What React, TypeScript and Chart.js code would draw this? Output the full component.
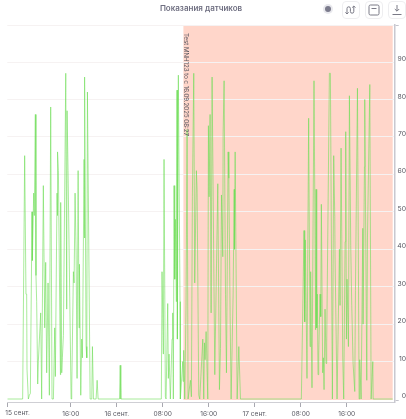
import React, { useEffect, useRef } from "react";
import { Chart, registerables } from "chart.js";

Chart.register(...registerables);

const chartTitle = "Показания датчиков";
const annotationText = "Test MNH123 to с 16.09.2025 08:27";
const annotationStart = 35.59;
const annotationEnd = 72;
const xMin = 4.95;
const xMax = 72.35;
const yMin = -0.8;
const yMax = 99.9;
const yBottomMark = -0.27;

const xTickValues = [4.95, 16, 24, 32, 40, 48, 56, 64];
const xTickLabels = ["15 сент.", "16:00", "16 сент.", "08:00", "16:00", "17 сент.", "08:00", "16:00"];
const yTickValues = [yBottomMark, 0, 10, 20, 30, 40, 50, 60, 70, 80, 90, yMax];

// hours since 15 Sep 00:00
const hours = [
  4.95, 7.62, 7.97, 8.2, 8.32, 8.38, 8.61, 8.78, 8.96, 9.25, 9.31, 9.54, 9.65, 9.83, 9.94, 10.06, 10.24, 10.35, 10.76, 10.93,
  11.22, 11.46, 11.63, 11.8, 12.04, 12.27, 12.5, 12.73, 12.97, 13.2, 13.31, 13.6, 13.66, 13.72, 13.84, 14.19, 14.24, 14.42, 14.53, 14.71,
  15.12, 15.29, 15.35, 15.52, 16.05, 16.16, 16.45, 16.57, 16.74, 16.92, 17.09, 17.27, 17.44, 17.5, 17.73, 17.9, 18.02, 18.31, 18.37, 18.43,
  18.66, 18.78, 18.89, 19.36, 19.65, 19.76, 19.94, 20.4, 20.58, 20.75, 24.47, 24.59, 24.7,
  31.75, 31.87, 32.1, 32.22, 32.45, 32.57, 32.86, 32.97, 33.09, 33.32, 33.61, 33.73, 33.84, 33.96, 34.08, 34.19, 34.37, 34.48, 34.54, 34.71, 35.0, 35.06,
  35.47, 35.53, 35.64, 35.82, 36.05, 36.23, 36.4, 36.81, 36.98, 37.15, 37.39, 37.56, 37.85, 37.97, 38.26, 38.43, 38.96, 39.13, 39.25, 39.36, 39.54, 39.83,
  39.94, 40.06, 40.23, 40.41, 40.58, 41.05, 41.57, 41.86, 42.04, 42.21, 42.44, 42.5, 42.67, 42.91, 43.08, 43.37, 43.49, 43.72, 43.89, 44.24, 44.42, 44.48,
  44.59, 44.94, 45.23, 45.52,
  56.11, 56.57, 56.69, 56.8, 57.09, 57.38, 57.62, 57.73, 57.96, 58.31, 58.6, 58.66, 58.78, 58.89, 59.01, 59.13, 59.36, 59.48, 59.59, 59.82, 59.94, 60.06,
  60.23, 60.4, 60.52, 60.99, 61.16, 61.51, 61.74, 61.92, 61.97, 62.32, 62.44, 62.73, 62.84, 63.02, 63.31, 63.48, 63.72, 63.83, 63.95, 64.06, 64.3, 64.47,
  64.7, 64.88, 65.11, 65.4, 65.52, 65.87, 66.16, 66.27, 66.51, 66.8, 66.85, 67.09, 67.14, 67.49, 67.61, 68.02, 68.25, 68.54, 68.6, 72,
];

const readings = [
  0, 0, 65, 28, 28, 8, 0, 1, 1.5, 50, 37, 55, 49, 76, 33, 26, 4, 10, 23, 0,
  57, 19, 36.5, 7, 31, 1, 78, 0, 0, 19, 6, 55, 49, 66, 61, 6.5, 52.5, 7, 11, 17,
  87, 24, 77, 61, 0, 3, 34, 31, 55, 39, 5.5, 61, 19, 36, 1, 16, 11, 64, 43, 86,
  14, 11, 82, 0, 0, 14, 0, 0, 5, 0, 0, 9, 0,
  0, 34, 12, 64, 0.6, 0, 25.5, 5.5, 12, 0, 16, 23, 0, 57, 32, 48, 26, 82.5, 16, 86.5, 26, 0,
  10, 4.7, 13, 0, 25, 72, 0, 5, 0.6, 54, 87, 31, 61, 56, 1, 0, 16, 0, 15, 10.5, 18, 0,
  73, 54, 76, 23, 86, 6.5, 57.5, 2.5, 13.5, 54.5, 38, 71, 85, 28, 7, 66, 59, 22, 0, 28, 56, 40,
  66, 0, 14, 0,
  0, 45, 20.6, 42.5, 5.5, 75, 14, 34, 3, 85, 18.5, 56, 19, 28, 6.5, 12, 28, 22, 52, 7, 11, 2.5,
  24, 9.5, 15, 87, 87, 0, 65, 48.7, 38, 0, 0, 40, 25, 67, 11, 0, 42, 71.4, 16, 32, 14, 81,
  41, 25, 9.5, 2, 29, 83, 0, 10.5, 0, 45.6, 20, 62, 80, 5, 43, 84, 0, 10, 0, 0,
];

const fontFamily = "Inter, 'Noto Sans', sans-serif";

const overlayPlugin = {
  id: "overlay",
  beforeDraw(chart: any) {
    const { ctx, scales } = chart;
    const { x, y } = scales;
    const left = x.getPixelForValue(annotationStart);
    const right = x.getPixelForValue(annotationEnd);
    const top = y.getPixelForValue(yMax);
    const bottom = y.getPixelForValue(yBottomMark);
    ctx.save();
    ctx.fillStyle = "#ffd6ca";
    ctx.fillRect(left, top, right - left, bottom - top);
    ctx.restore();
  },
  afterDraw(chart: any) {
    const { ctx, scales } = chart;
    const { x, y } = scales;
    ctx.save();
    ctx.fillStyle = "#55555f";
    ctx.font = `6.1px ${fontFamily}`;
    ctx.textBaseline = "middle";
    ctx.textAlign = "left";
    ctx.translate(x.getPixelForValue(annotationStart) + 2, y.getPixelForValue(yMax) + 8);
    ctx.rotate(Math.PI / 2);
    ctx.fillText(annotationText, 0, 0);
    ctx.restore();

    ctx.save();
    ctx.fillStyle = "#55555f";
    ctx.font = `6.6px ${fontFamily}`;
    ctx.textAlign = "left";
    ctx.textBaseline = "middle";
    ctx.fillText(xTickLabels[0], x.getPixelForValue(xTickValues[0]) - 2, 413);
    ctx.restore();
  },
};

function Button({ left, children }: { left: number; children: React.ReactNode }) {
  return (
    <div
      style={{
        position: "absolute",
        left,
        top: 1,
        width: 18,
        height: 18,
        boxSizing: "border-box",
        border: "1px solid #eeeef0",
        borderRadius: 4,
        background: "#fff",
      }}
    >
      <svg width={16} height={16} viewBox="0 0 16 16" fill="none" stroke="#7a7a86" strokeWidth={1}>
        {children}
      </svg>
    </div>
  );
}

export default function App() {
  const ref = useRef<HTMLCanvasElement>(null);

  useEffect(() => {
    const chart = new Chart(ref.current as HTMLCanvasElement, {
      type: "line",
      data: {
        datasets: [
          {
            data: hours.map((h, i) => ({ x: h, y: readings[i] })),
            borderColor: "rgba(112, 222, 88, 0.6)",
            borderWidth: 1,
            pointRadius: 0,
            tension: 0,
            fill: false,
          },
        ],
      },
      options: {
        animation: false,
        responsive: false,
        layout: { padding: { left: 7.3, top: 0, right: 0, bottom: 0 } },
        plugins: {
          legend: { display: false },
          tooltip: { enabled: false },
          title: {
            display: true,
            fullSize: false,
            text: chartTitle,
            color: "#6e6e80",
            font: { family: fontFamily, size: 8, weight: "600" },
            padding: { top: 4, bottom: 11.4 },
          },
        },
        scales: {
          x: {
            type: "linear",
            min: xMin,
            max: xMax,
            afterBuildTicks: (s: any) => {
              s.ticks = xTickValues.map((value) => ({ value }));
            },
            afterFit: (s: any) => {
              s.height = 17;
            },
            ticks: {
              autoSkip: false,
              maxRotation: 0,
              color: "#55555f",
              font: { family: fontFamily, size: 6.6 },
              padding: 3,
              callback: (v: any) => {
                const i = xTickValues.indexOf(Number(v));
                return i <= 0 ? "" : xTickLabels[i];
              },
            },
            grid: { drawOnChartArea: false, tickLength: 5, tickColor: "#a8a8b0" },
            border: { color: "#cfcfd4", width: 1 },
          },
          y: {
            type: "linear",
            position: "right",
            min: yMin,
            max: yMax,
            afterBuildTicks: (s: any) => {
              s.ticks = yTickValues.map((value) => ({ value }));
            },
            afterFit: (s: any) => {
              s.width = 11.3;
            },
            ticks: {
              autoSkip: false,
              color: "#55555f",
              font: { family: fontFamily, size: 6.8 },
              crossAlign: "far",
              padding: -3.7,
              labelOffset: -3,
              callback: (v: any) => (Number(v) >= 0 && Number(v) <= 90 ? String(v) : ""),
            },
            grid: {
              tickLength: 4,
              color: (c: any) => {
                const v = c.tick?.value;
                return v > 0 ? "#f6f2f2" : "rgba(0,0,0,0)";
              },
              tickColor: (c: any) => {
                const v = c.tick?.value;
                return v === yMax || v === yBottomMark ? "#c4c4cc" : "rgba(0,0,0,0)";
              },
            },
            border: { color: "#c8c8d0", width: 1.5 },
          },
        },
      } as any,
      plugins: [overlayPlugin],
    });
    return () => chart.destroy();
  }, []);

  return (
    <div style={{ position: "absolute", left: 0, top: 0, width: 406, height: 419, background: "#fff", overflow: "hidden" }}>
      <canvas ref={ref} width={406} height={419} style={{ display: "block" }} />
      <div style={{ position: "absolute", left: 322.5, top: 4, width: 10, height: 10, borderRadius: 5, background: "#e9e9ee" }}>
        <div style={{ position: "absolute", left: 2, top: 2, width: 6, height: 6, borderRadius: 3, background: "#7b7b8c" }} />
      </div>
      <Button left={342}>
        <path d="M4 12V6.5a1.7 1.7 0 0 1 3.4 0v3a1.7 1.7 0 0 0 3.4 0V4M9.2 5.6 10.8 4l1.6 1.6M2.4 10.4 4 12l1.6-1.6" />
      </Button>
      <Button left={365}>
        <rect x={3} y={3} width={10} height={10} rx={1.5} />
        <path d="M5.5 6.5h5" />
      </Button>
      <Button left={388}>
        <path d="M8 3v6M5.8 7 8 9.2 10.2 7M3.5 12.5h9" />
      </Button>
    </div>
  );
}
